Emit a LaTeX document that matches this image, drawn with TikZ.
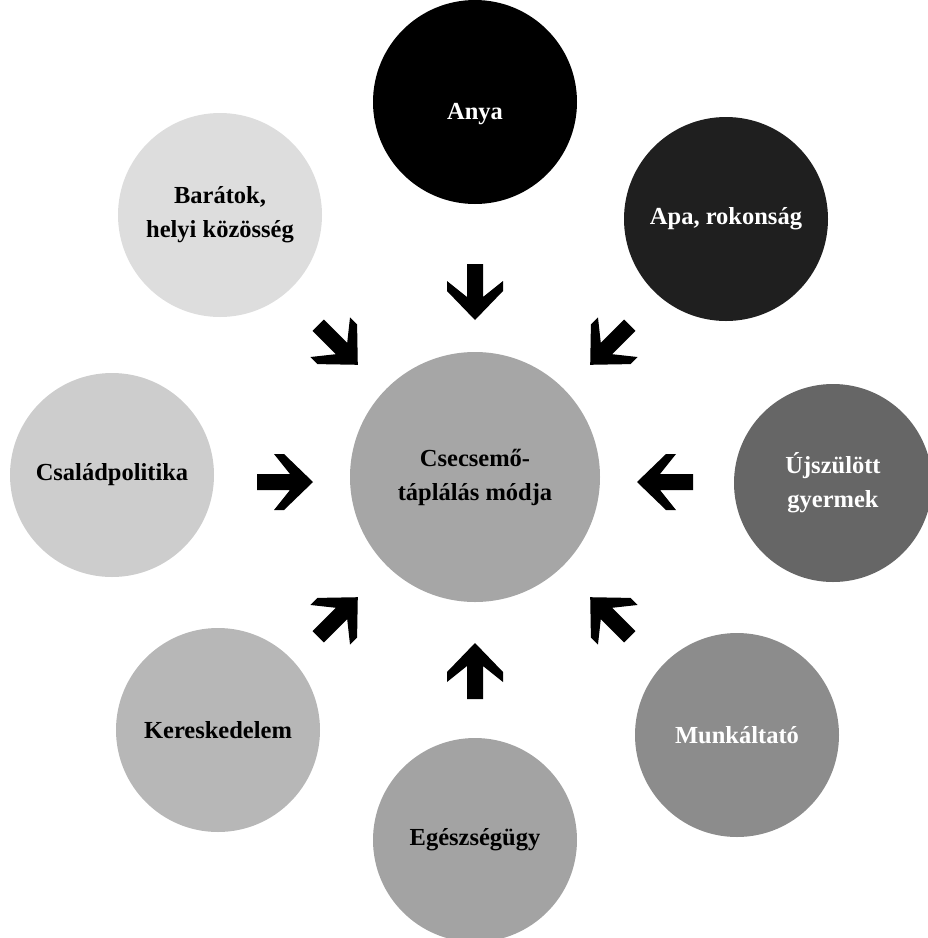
\documentclass[tikz,border=0pt]{standalone}
\usepackage{fontspec}
\setmainfont{Liberation Serif}
\definecolor{cAnya}{HTML}{000000}
\definecolor{cApa}{HTML}{1F1F1F}
\definecolor{cUj}{HTML}{666666}
\definecolor{cMunk}{HTML}{8C8C8C}
\definecolor{cEg}{HTML}{A3A3A3}
\definecolor{cKer}{HTML}{B7B7B7}
\definecolor{cCsal}{HTML}{CDCDCD}
\definecolor{cBar}{HTML}{DDDDDD}
\definecolor{cMid}{HTML}{A6A6A6}
\tikzset{
  bubble/.style={circle, minimum size=204pt, inner sep=0pt, align=center,
    font=\fontsize{24.5pt}{34pt}\selectfont\bfseries},
  hub/.style={bubble, minimum size=250pt, fill=cMid, text=black},
  fatarrow/.style={fill=black}
}
\newcommand{\fatarrowpath}{(-28,8) -- (5,8) -- (-11,28) -- (-1,28) -- (28,0) -- (-1,-28) -- (-11,-28) -- (5,-8) -- (-28,-8) -- cycle}
\begin{document}
\begin{tikzpicture}[x=1pt,y=-1pt]
\useasboundingbox (0,0) rectangle (928,938);
\clip (0,0) rectangle (928,938);
% circles
\node[hub] (hub) at (475,477) {Csecsemő-\\táplálás módja};
\node[bubble, fill=cAnya, text=white] (anya) at (475,102) {\raisebox{-17pt}[0pt][0pt]{Anya}};
\node[bubble, fill=cApa, text=white] (apa) at (726,219) {Apa, rokonság};
\node[bubble, fill=cUj, text=white, minimum size=198pt] (uj) at (833,483) {Újszülött\\gyermek};
\node[bubble, fill=cMunk, text=white] (munk) at (737,735) {Munkáltató};
\node[bubble, fill=cEg, text=black] (eg) at (475,840) {Egészségügy};
\node[bubble, fill=cKer, text=black] (ker) at (218,730) {Kereskedelem};
\node[bubble, fill=cCsal, text=black] (csal) at (112,475) {Családpolitika};
\node[bubble, fill=cBar, text=black] (bar) at (220,215) {Barátok,\\helyi közösség};
% arrows pointing to the hub
\fill[fatarrow, shift={(475,292)}, rotate=-90] \fatarrowpath;
\fill[fatarrow, shift={(475,671)}, rotate=90] \fatarrowpath;
\fill[fatarrow, shift={(285,482)}, rotate=0] \fatarrowpath;
\fill[fatarrow, shift={(665,482)}, rotate=180] \fatarrowpath;
\fill[fatarrow, shift={(338,345)}, rotate=-45] \fatarrowpath;
\fill[fatarrow, shift={(610,345)}, rotate=-135] \fatarrowpath;
\fill[fatarrow, shift={(610,617)}, rotate=135] \fatarrowpath;
\fill[fatarrow, shift={(338,617)}, rotate=45] \fatarrowpath;
\end{tikzpicture}
\end{document}
